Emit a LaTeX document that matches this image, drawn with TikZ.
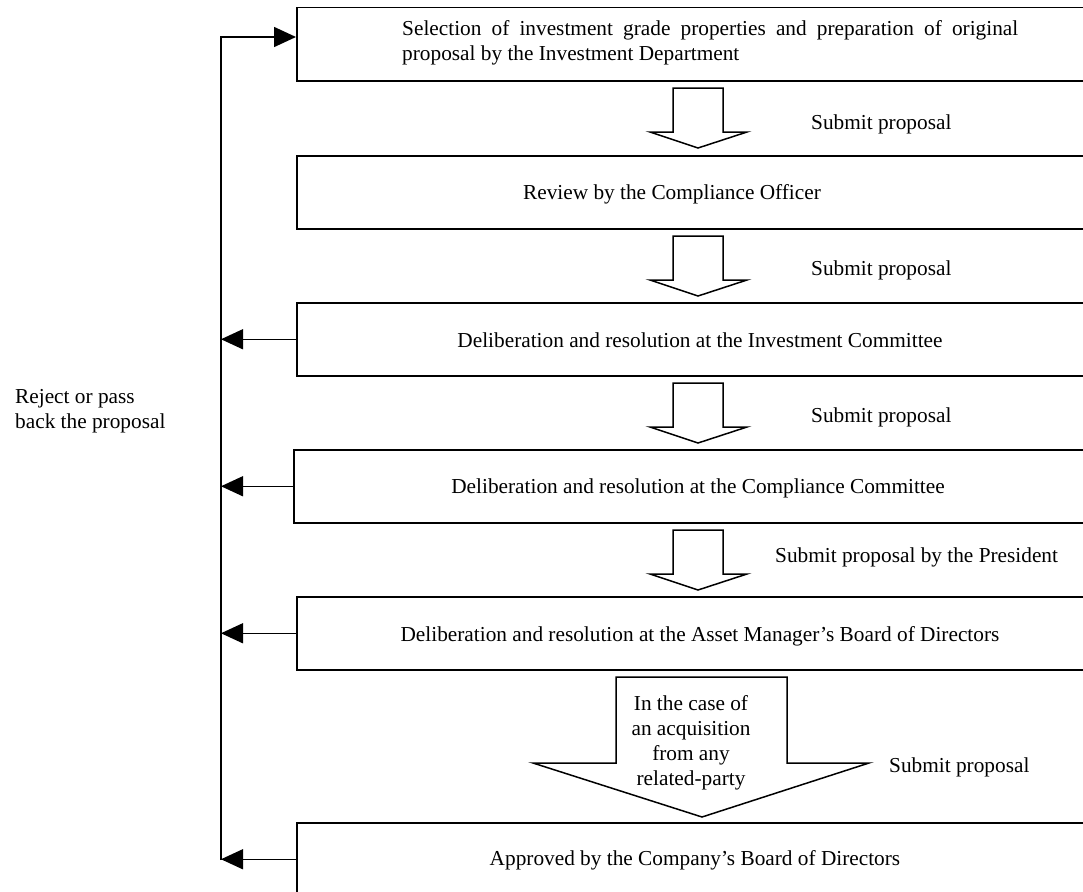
\documentclass[tikz,border=0pt]{standalone}
\usepackage{fontspec}
\setmainfont{Liberation Serif}
\usetikzlibrary{arrows.meta}
\begin{document}
\begin{tikzpicture}[x=1pt,y=-1pt,
  box/.style={draw,line width=1.5pt,minimum width=804pt,minimum height=73pt,anchor=north west,inner sep=0pt},
  txt/.style={font=\fontsize{21.3}{25}\selectfont,inner sep=0pt,yshift=-2.5pt},
  blk/.style={draw,line width=1.5pt,fill=white,line join=miter},
  fb/.style={line width=1.5pt,-{Triangle[length=22pt,width=20pt]}}]
\useasboundingbox (0,0) rectangle (1083,891);
\clip (0,0) rectangle (1083,891);
% boxes
\node[box] (b1) at (296,7) {};
\node[box] (b2) at (296,155) {};
\node[box] (b3) at (296,302) {};
\node[box] (b4) at (293,449) {};
\node[box] (b5) at (296,596) {};
\node[box] (b6) at (296,822) {};
% box texts
\node[txt,anchor=west,align=left] (t1) at (402,40)
  {\makebox[616pt][s]{Selection of investment grade properties and preparation of original}\\proposal by the Investment Department};
\node[txt] (t2) at (672,192) {Review by the Compliance Officer};
\node[txt] (t3) at (700,338) {Deliberation and resolution at the Investment Committee};
\node[txt] (t4) at (698,486) {Deliberation and resolution at the Compliance Committee};
\node[txt] (t5) at (700,634) {Deliberation and resolution at the Asset Manager’s Board of Directors};
\node[txt] (t6) at (695,858) {Approved by the Company’s Board of Directors};
% block arrows
\foreach \t in {88,236,383,530}{
  \draw[blk] (673,\t)--(723,\t)--(723,\t+44)--(747,\t+44)--(698,\t+60)--(650,\t+44)--(673,\t+44)--cycle;
}
\draw[blk] (616,677)--(787,677)--(787,763)--(869,763)--(702,817)--(533,763)--(616,763)--cycle;
\node[txt,align=center] (ta) at (691,740) {In the case of\\an acquisition\\from any\\related-party};
% labels
\node[txt,anchor=west] (s1) at (811,122) {Submit proposal};
\node[txt,anchor=west] (s2) at (811,268) {Submit proposal};
\node[txt,anchor=west] (s3) at (811,415) {Submit proposal};
\node[txt,anchor=west] (s4) at (775,555) {Submit proposal by the President};
\node[txt,anchor=west] (s5) at (889,765) {Submit proposal};
\node[txt,anchor=west,align=left] (rj) at (15,409) {Reject or pass\\back the proposal};
% feedback line
\coordinate (L) at (221,37);
\coordinate (Lb) at (221,860);
\draw[fb] (Lb) -- (L) -- (L -| b1.west);
\draw[fb] (b3.west) -- (b3.west -| L);
\draw[fb] (b4.west) -- (b4.west -| L);
\draw[fb] (b5.west) -- (b5.west -| L);
\draw[fb] (b6.west) -- (b6.west -| L);
\end{tikzpicture}
\end{document}
